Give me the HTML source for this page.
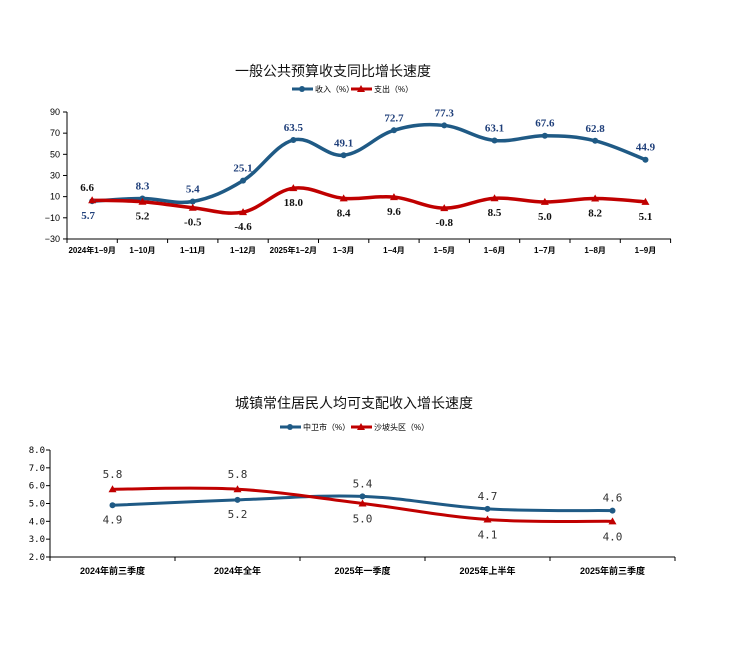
<!DOCTYPE html>
<html><head><meta charset="utf-8"><style>
body{margin:0;background:#fff;width:741px;height:660px;overflow:hidden}
svg{display:block}
</style></head><body>
<svg id="s" width="741" height="660" xmlns="http://www.w3.org/2000/svg" font-family="'Liberation Sans','Noto Sans CJK SC',sans-serif">
<text x="333" y="76" font-size="14" text-anchor="middle" fill="#111">一般公共预算收支同比增长速度</text>
<text x="354" y="408" font-size="14" text-anchor="middle" fill="#111">城镇常住居民人均可支配收入增长速度</text>
</svg>
<script>
var s=document.getElementById('s'),NS='http://www.w3.org/2000/svg';
function el(t,a,txt){var e=document.createElementNS(NS,t);for(var k in a)e.setAttribute(k,a[k]);if(txt!=null)e.textContent=txt;s.appendChild(e);return e;}
function smooth(p){var d='M'+p[0][0]+','+p[0][1];for(var i=0;i<p.length-1;i++){var p0=p[i-1]||p[i],p1=p[i],p2=p[i+1],p3=p[i+2]||p2;var t=0.18*2;var c1=[p1[0]+(p2[0]-p0[0])*t/2,p1[1]+(p2[1]-p0[1])*t/2],c2=[p2[0]-(p3[0]-p1[0])*t/2,p2[1]-(p3[1]-p1[1])*t/2];d+=' C'+c1+' '+c2+' '+p2;}return d;}
var B='#1f5a85',R='#c00000';
function tri(x,y,c){el('path',{d:'M'+x+','+(y-4)+' L'+(x+4)+','+(y+3)+' L'+(x-4)+','+(y+3)+'Z',fill:c});}
function dot(x,y,c){el('circle',{cx:x,cy:y,r:3,fill:c});}
// Chart 1
var X1=function(i){return 67+50.3*(i+0.5)},Y1=function(v){return 112+(90-v)*1.058};
el('line',{x1:67,y1:112,x2:67,y2:239,stroke:'#000'});el('line',{x1:67,y1:239,x2:671,y2:239,stroke:'#000'});
for(var v=90;v>=-30;v-=20){var y=Y1(v);el('line',{x1:63,y1:y,x2:67,y2:y,stroke:'#000'});el('text',{x:60,y:y+3,'font-size':9,'text-anchor':'end'},v==-30?'−30':v==-10?'−10':v);}
var cats=['2024年1−9月','1−10月','1−11月','1−12月','2025年1−2月','1−3月','1−4月','1−5月','1−6月','1−7月','1−8月','1−9月'];
for(var i=0;i<=12;i++){var x=67+50.3*i;el('line',{x1:x,y1:239,x2:x,y2:243,stroke:'#000'});}
cats.forEach(function(c,i){el('text',{x:X1(i),y:253,'font-size':8,'font-weight':'bold','text-anchor':'middle'},c);});
var inc=[5.7,8.3,5.4,25.1,63.5,49.1,72.7,77.3,63.1,67.6,62.8,44.9],exp=[6.6,5.2,-0.5,-4.6,18.0,8.4,9.6,-0.8,8.5,5.0,8.2,5.1];
var pi=inc.map(function(v,i){return[X1(i),Y1(v)]}),pe=exp.map(function(v,i){return[X1(i),Y1(v)]});
el('path',{d:smooth(pi),fill:'none',stroke:B,'stroke-width':3.5});
el('path',{d:smooth(pe),fill:'none',stroke:R,'stroke-width':3.5});
pi.forEach(function(p){dot(p[0],p[1],B)});pe.forEach(function(p){tri(p[0],p[1],R)});
var sf="'Liberation Serif','Noto Serif CJK SC',serif";
inc.forEach(function(v,i){var p=pi[i];if(i==0)el('text',{x:p[0]-4,y:p[1]+18,'font-size':11,'font-weight':'bold','font-family':sf,fill:'#1f3f7a','text-anchor':'middle'},v.toFixed(1));else el('text',{x:p[0],y:p[1]-9,'font-size':11,'font-weight':'bold','font-family':sf,fill:'#1f3f7a','text-anchor':'middle'},v.toFixed(1));});
exp.forEach(function(v,i){var p=pe[i];if(i==0)el('text',{x:p[0]-5,y:p[1]-9,'font-size':11,'font-weight':'bold','font-family':sf,fill:'#111','text-anchor':'middle'},v.toFixed(1));else el('text',{x:p[0],y:p[1]+18,'font-size':11,'font-weight':'bold','font-family':sf,fill:'#111','text-anchor':'middle'},v.toFixed(1));});
// legend 1
el('line',{x1:292,y1:89,x2:313,y2:89,stroke:B,'stroke-width':3});dot(302,89,B);
el('text',{x:315,y:92,'font-size':8},'收入（%）');
el('line',{x1:351,y1:89,x2:372,y2:89,stroke:R,'stroke-width':3});tri(361,89,R);
el('text',{x:374,y:92,'font-size':8},'支出（%）');
// Chart 2
var X2=function(i){return 50+125*(i+0.5)},Y2=function(v){return 450+(8-v)*17.83};
el('line',{x1:50,y1:450,x2:50,y2:557,stroke:'#000'});el('line',{x1:50,y1:557,x2:675,y2:557,stroke:'#000'});
for(var v=8;v>=2;v--){var y=Y2(v);el('line',{x1:46,y1:y,x2:50,y2:y,stroke:'#000'});el('text',{x:45,y:y+3,'font-size':9,'text-anchor':'end','font-family':"'DejaVu Sans Mono',monospace"},v.toFixed(1));}
for(var i=0;i<=5;i++){var x=50+125*i;el('line',{x1:x,y1:557,x2:x,y2:561,stroke:'#000'});}
['2024年前三季度','2024年全年','2025年一季度','2025年上半年','2025年前三季度'].forEach(function(c,i){el('text',{x:X2(i),y:574,'font-size':9,'font-weight':'bold','text-anchor':'middle'},c);});
var a=[4.9,5.2,5.4,4.7,4.6],b=[5.8,5.8,5.0,4.1,4.0];
var pa=a.map(function(v,i){return[X2(i),Y2(v)]}),pb=b.map(function(v,i){return[X2(i),Y2(v)]});
el('path',{d:smooth(pa),fill:'none',stroke:B,'stroke-width':3});
el('path',{d:smooth(pb),fill:'none',stroke:R,'stroke-width':3});
pa.forEach(function(p){dot(p[0],p[1],B)});pb.forEach(function(p){tri(p[0],p[1],R)});
var mf="'DejaVu Sans Mono',monospace";
var aAbove=[false,false,true,true,true];
a.forEach(function(v,i){var p=pa[i];el('text',{x:p[0],y:aAbove[i]?p[1]-9:p[1]+18,'font-size':11,'font-family':mf,fill:'#333','text-anchor':'middle'},v.toFixed(1));});
b.forEach(function(v,i){var p=pb[i];var ab=i<2;el('text',{x:p[0],y:ab?p[1]-11:p[1]+19,'font-size':11,'font-family':mf,fill:'#333','text-anchor':'middle'},v.toFixed(1));});
el('line',{x1:280,y1:427,x2:301,y2:427,stroke:B,'stroke-width':3});dot(290,427,B);
el('text',{x:303,y:430,'font-size':8},'中卫市（%）');
el('line',{x1:351,y1:427,x2:372,y2:427,stroke:R,'stroke-width':3});tri(361,427,R);
el('text',{x:374,y:430,'font-size':8},'沙坡头区（%）');
</script>
</body></html>
